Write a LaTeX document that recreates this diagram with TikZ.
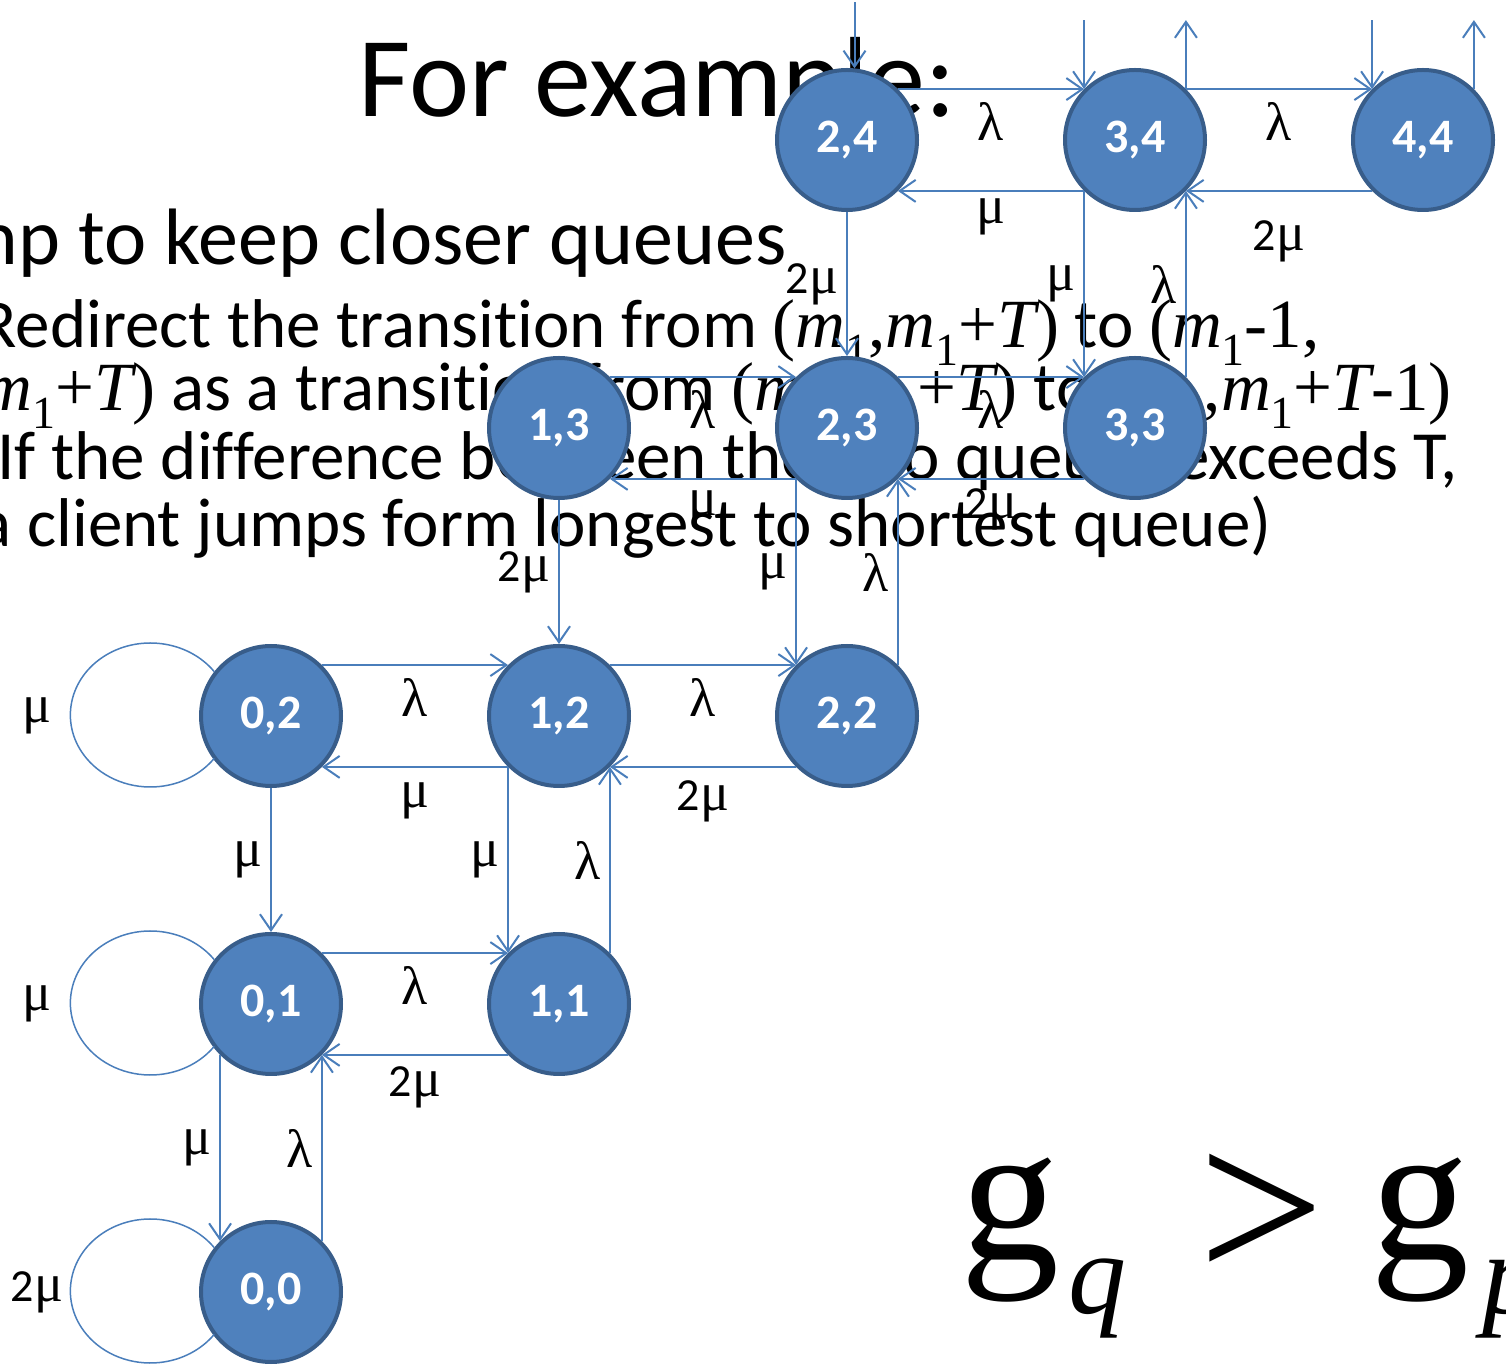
\documentclass[tikz,border=0pt]{standalone}
\usepackage{fontspec}
\setmainfont{Carlito}[Ligatures=NoCommon]
\newfontfamily\tnr{Liberation Serif}
\usetikzlibrary{arrows.meta}

\definecolor{qfill}{HTML}{4F81BD}
\definecolor{qborder}{HTML}{385D8A}
\definecolor{qline}{HTML}{4A7EBB}

\newcommand\sone{\raisebox{-9pt}{\fontsize{23}{23}\selectfont 1}}
\newcommand\mm{{\itshape m}\sone}
\newcommand\mT{{\itshape T}}
\newcommand\glam{{\tnr\fontsize{27}{27}\selectfont λ}}
\newcommand\gmu{{\tnr\fontsize{27}{27}\selectfont μ}}

\begin{document}
\begin{tikzpicture}[x=0.5pt, y=0.5pt, >={Straight Barb[length=8pt,width=11pt]},
    qstate/.style={circle, draw=qborder, line width=2pt, fill=qfill, minimum size=70pt,
        inner sep=0pt, text=white, font=\fontsize{24}{24}\selectfont\bfseries},
    trans/.style={->, draw=qline, line width=1pt},
    loopl/.style={draw=qline, line width=0.75pt},
    lab/.style={inner sep=0pt, font=\fontsize{23}{23}\selectfont},
    bodyA/.style={anchor=base east, inner sep=0pt, font=\fontsize{40}{40}\selectfont},
    bodyB/.style={anchor=base east, inner sep=0pt, font=\fontsize{34.5}{34.5}\selectfont},
    bigm/.style={anchor=base west, inner sep=0pt, font=\tnr\fontsize{99}{99}\selectfont}]
    \useasboundingbox (0,0) rectangle (1506,1367);
    \clip (0,0) rectangle (1506,1367);

    % Slide text
    \node[anchor=base west, inner sep=0pt, font=\fontsize{57}{57}\selectfont] (title) at (358,1250) {For example:};
    \node[bodyA] (line0) at (787,1102) {Jump to keep closer queues};
    \node[bodyB] (line1) at (1320,1019) {Redirect the transition from {\tnr(\mm,\mm+\mT)} to {\tnr(\mm-1,}};
    \node[bodyB] (line2) at (1452,956) {{\tnr\mm+\mT)} as a transition from {\tnr(\mm,\mm+\mT)} to {\tnr(\mm,\mm+\mT-1)}};
    \node[bodyB] (line3) at (1458,887) {If the difference between the two queues exceeds T,};
    \node[bodyB] (line4) at (1272,820) {(a client jumps form longest to shortest queue)};

    % States
    \foreach \i/\j in {0/0,0/1,1/1,0/2,1/2,2/2,1/3,2/3,3/3,2/4,3/4,4/4}
        \node[qstate] (n\i\j) at ({271+288*\i},{75+288*\j}) {\i,\j};

    % Horizontal transitions
    \foreach \a/\b/\ltop/\lbot/\d in {01/11/\glam/2\gmu/16, 02/12/\glam/\gmu/17, 12/22/\glam/2\gmu/17,
        13/23/\glam/\gmu/15, 23/33/\glam/2\gmu/15, 24/34/\glam/\gmu/13, 34/44/\glam/2\gmu/25} {
        \draw[trans] (n\a.45) -- node[lab, yshift=-16pt] {\ltop} (n\b.135);
        \draw[trans] (n\b.225) -- node[lab, yshift=-\d pt] {\lbot} (n\a.-45);
    }

    % Vertical transitions
    \foreach \a/\b/\l in {02/01/\gmu, 13/12/2\gmu, 24/23/2\gmu}
        \draw[trans] (n\a.south) -- node[lab, left=4pt] {\l} (n\b.north);
    \foreach \a/\b in {12/11, 23/22, 34/33, 01/00} {
        \draw[trans] (n\a.225) -- node[lab, left=4pt] {\gmu} (n\b.135);
        \draw[trans] (n\b.45) -- node[lab, left=4pt] {\glam} (n\a.-45);
    }

    % Self loops
    \foreach \s/\l in {02/\gmu, 01/\gmu, 00/2\gmu} {
        \draw[loopl] (n\s.142) arc[start angle=37, end angle=323, x radius=80, y radius=72];
        \node[lab] (loop\s) at ([xshift=-117pt]n\s.center) {\l};
    }

    % Transitions from off-slide states
    \path (n24.84) ++(0,66) coordinate (in24);
    \draw[trans] (in24) -- (n24.84);
    \foreach \s in {34,44} {
        \path (n\s.135) ++(0,69) coordinate (in\s);
        \path (n\s.45) ++(0,69) coordinate (out\s);
        \draw[trans] (in\s) -- (n\s.135);
        \draw[trans] (n\s.45) -- (out\s);
    }

    % Condition
    \node[bigm] (g1) at (960,107) {g};
    \node[bigm, font=\tnr\fontsize{58}{58}\selectfont\itshape] (q1) at (1068,54) {q};
    \node[bigm, font=\tnr\fontsize{112}{112}\selectfont] (gt) at (1198,84) {>};
    \node[bigm] (g2) at (1370,107) {g};
    \node[bigm, font=\tnr\fontsize{58}{58}\selectfont\itshape] (p1) at (1482,54) {p};
\end{tikzpicture}
\end{document}
